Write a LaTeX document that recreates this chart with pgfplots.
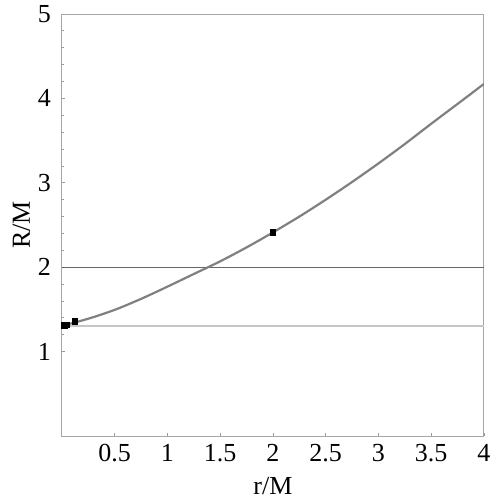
\documentclass[border=0pt]{standalone}
\usepackage{pgfplots}
\pgfplotsset{compat=1.18}
\usepackage{fontspec}
\setmainfont{Liberation Serif}
\begin{document}
\begin{tikzpicture}
\begin{axis}[
  name=ax,
  scale only axis,
  width=211pt, height=211pt,
  xmin=0, xmax=4, ymin=0, ymax=5,
  xtick={0.5,1,1.5,2,2.5,3,3.5,4},
  ytick={1,2,3,4,5},
  /pgf/number format/assume math mode=true,
  minor y tick num=4,
  tick align=inside,
  xtick pos=bottom, ytick pos=left,
  major tick length=1.6pt, minor tick length=1.2pt,
  every tick/.style={gray!80, line width=0.4pt},
  axis line style={gray!70, line width=0.5pt},
  tick label style={font=\fontsize{13}{15}\selectfont},
  xticklabel style={yshift=-0.5pt},
  yticklabel style={xshift=-2pt},
  label style={font=\fontsize{13}{15}\selectfont},
  xlabel={r/M}, ylabel={R/M},
  xlabel style={yshift=-1pt},
  ylabel style={yshift=-3pt},
  clip=true,
]
\addplot[gray!45, line width=0.8pt] coordinates {(0,1.303) (4,1.303)};
\addplot[black!60, line width=0.5pt] coordinates {(0,2) (4,2)};
\addplot[gray, line width=1.1pt, smooth] coordinates {
 (0,1.305) (0.25,1.39) (0.5,1.495) (0.75,1.625) (1.0,1.77) (1.25,1.92)
 (1.5,2.07) (1.75,2.235) (2.0,2.413) (2.25,2.60) (2.5,2.80) (2.75,3.01)
 (3.0,3.23) (3.25,3.46) (3.5,3.70) (3.75,3.935) (4.0,4.172)};
\addplot[only marks, mark=square*, mark size=1.3pt, black] coordinates {
 (0.023,1.31) (0.042,1.315) (0.12,1.357) (2,2.413)};
\end{axis}
\pgfresetboundingbox
\path (ax.south west) ++(-31pt,-32pt) rectangle ++(250pt,250pt);
\end{tikzpicture}
\end{document}
